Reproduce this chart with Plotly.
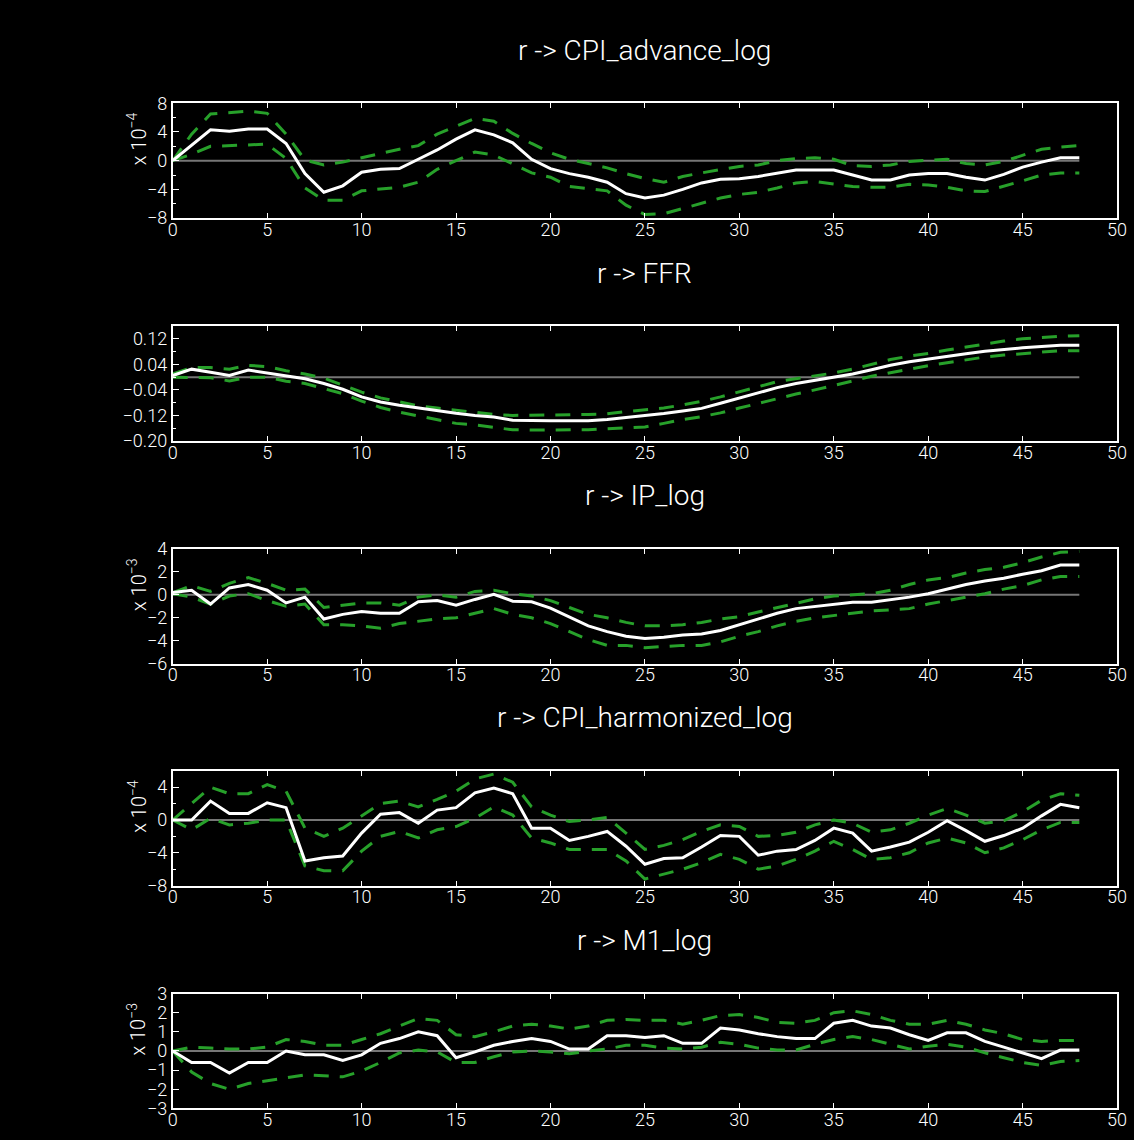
import plotly.graph_objects as go

# ---------------- data ----------------
lags = list(range(49))

titles = ["r -> CPI_advance_log", "r -> FFR", "r -> IP_log",
          "r -> CPI_harmonized_log", "r -> M1_log"]
scale_labels = ["x 10<sup>−4</sup>", "", "x 10<sup>−3</sup>", "x 10<sup>−4</sup>", "x 10<sup>−3</sup>"]

# panel 1 : r -> CPI_advance_log   (units of 1e-4)
cpi_adv_irf = [0, 2.1, 4.3, 4.1, 4.4, 4.4, 2.4, -1.8, -4.4, -3.5, -1.6, -1.2, -1.1, 0.2, 1.5, 3.0, 4.3,
               3.6, 2.5, 0.2, -1.1, -1.8, -2.3, -3.0, -4.6, -5.2, -4.8, -4.0, -3.1, -2.6, -2.5, -2.2,
               -1.7, -1.3, -1.3, -1.3, -2.0, -2.7, -2.7, -2.0, -1.8, -1.8, -2.3, -2.7, -1.9, -0.9,
               -0.2, 0.4, 0.4]
cpi_adv_up = [0, 3.7, 6.5, 6.7, 6.9, 6.6, 3.7, 0.1, -0.6, -0.2, 0.4, 1.1, 1.6, 2.1, 3.7, 4.8, 5.9,
              5.5, 3.8, 2.4, 1.1, 0.2, -0.4, -1.0, -1.8, -2.5, -3.0, -2.2, -1.7, -1.3, -0.8, -0.6,
              0.0, 0.3, 0.4, 0.2, -0.7, -0.8, -0.6, -0.1, 0.0, 0.2, -0.4, -0.6, -0.1, 0.7, 1.6, 1.9, 2.1]
cpi_adv_lo = [0, 0.9, 2.0, 2.1, 2.3, 2.3, 0.3, -3.8, -5.5, -5.5, -4.2, -3.9, -3.7, -3.0, -1.2, 0.0,
              1.2, 0.8, -0.4, -1.7, -2.3, -3.6, -3.9, -4.2, -6.2, -7.5, -7.4, -6.7, -6.0, -5.2, -4.7,
              -4.4, -3.8, -3.1, -2.9, -3.3, -3.6, -3.7, -3.7, -3.3, -3.4, -3.7, -4.2, -4.3, -3.6,
              -2.8, -2.0, -1.7, -1.7]

# panel 2 : r -> FFR
ffr_irf = [0.005, 0.025, 0.015, 0.005, 0.022, 0.013, 0.002, -0.005, -0.02, -0.038, -0.062, -0.078,
           -0.088, -0.097, -0.106, -0.113, -0.12, -0.125, -0.135, -0.137, -0.137, -0.137, -0.137,
           -0.133, -0.127, -0.12, -0.114, -0.106, -0.098, -0.082, -0.065, -0.048, -0.033, -0.02,
           -0.01, 0.0, 0.01, 0.023, 0.037, 0.048, 0.057, 0.065, 0.073, 0.081, 0.087, 0.092, 0.096,
           0.1, 0.1]
ffr_up = [0.01, 0.03, 0.03, 0.025, 0.037, 0.033, 0.02, 0.01, -0.003, -0.025, -0.047, -0.065, -0.078,
          -0.09, -0.097, -0.103, -0.11, -0.117, -0.12, -0.12, -0.12, -0.118, -0.117, -0.115, -0.108,
          -0.102, -0.097, -0.087, -0.076, -0.062, -0.045, -0.03, -0.014, -0.005, 0.003, 0.013,
          0.025, 0.04, 0.055, 0.066, 0.074, 0.085, 0.095, 0.105, 0.113, 0.12, 0.125, 0.128, 0.13]
ffr_lo = [0.0, 0.0, -0.002, -0.012, 0.0, 0.0, -0.013, -0.02, -0.035, -0.052, -0.075, -0.095, -0.11,
          -0.122, -0.135, -0.145, -0.15, -0.158, -0.165, -0.166, -0.166, -0.166, -0.165, -0.162,
          -0.16, -0.156, -0.145, -0.133, -0.124, -0.112, -0.097, -0.082, -0.068, -0.053, -0.04,
          -0.027, -0.012, 0.003, 0.014, 0.027, 0.036, 0.045, 0.055, 0.063, 0.069, 0.073, 0.079,
          0.083, 0.083]

# panel 3 : r -> IP_log   (units of 1e-3)
ip_irf = [0.2, 0.4, -0.8, 0.6, 0.9, 0.4, -0.7, -0.2, -2.1, -1.7, -1.45, -1.6, -1.6, -0.6, -0.5,
          -0.9, -0.4, 0.05, -0.55, -0.6, -1.15, -1.9, -2.7, -3.2, -3.6, -3.8, -3.7, -3.5, -3.4,
          -3.1, -2.6, -2.1, -1.6, -1.2, -1.0, -0.8, -0.65, -0.65, -0.45, -0.2, 0.1, 0.5, 0.9, 1.2,
          1.45, 1.8, 2.1, 2.6, 2.6]
ip_up = [0.2, 0.8, 0.3, 1.0, 1.5, 1.0, 0.4, 0.5, -1.1, -0.9, -0.7, -0.7, -0.9, -0.2, 0.0, -0.2,
         0.3, 0.4, 0.1, -0.1, -0.5, -1.1, -1.7, -2.0, -2.4, -2.7, -2.7, -2.6, -2.4, -2.1, -1.9,
         -1.5, -1.1, -0.7, -0.35, -0.1, 0.0, 0.1, 0.4, 0.9, 1.3, 1.5, 1.9, 2.2, 2.4, 2.8, 3.3,
         3.7, 3.8]
ip_lo = [0.1, -0.2, -0.8, -0.1, 0.1, -0.5, -1.0, -0.8, -2.6, -2.6, -2.7, -2.9, -2.5, -2.3, -2.1,
         -2.0, -1.6, -1.2, -1.7, -2.0, -2.5, -3.2, -3.9, -4.4, -4.4, -4.6, -4.5, -4.4, -4.4, -4.1,
         -3.6, -3.2, -2.7, -2.3, -2.0, -1.8, -1.6, -1.4, -1.3, -1.2, -0.8, -0.5, -0.2, 0.1, 0.5,
         0.8, 1.3, 1.6, 1.6]

# panel 4 : r -> CPI_harmonized_log   (units of 1e-4)
cpi_h_irf = [0, 0, 2.3, 0.8, 0.8, 2.1, 1.5, -5.0, -4.6, -4.4, -1.6, 0.7, 0.9, -0.4, 1.2, 1.5, 3.3,
             3.9, 3.2, -1.0, -1.0, -2.5, -2.0, -1.4, -3.2, -5.4, -4.7, -4.6, -3.3, -1.9, -2.0, -4.3,
             -3.8, -3.6, -2.5, -1.0, -1.6, -3.8, -3.3, -2.7, -1.5, -0.1, -1.3, -2.6, -1.9, -1.0,
             0.5, 1.9, 1.5]
cpi_h_up = [0, 2.0, 4.0, 3.2, 3.2, 4.3, 3.5, -1.0, -2.0, -1.0, 0.5, 2.0, 2.3, 1.6, 2.5, 3.5, 5.0,
            5.6, 4.6, 1.6, 0.6, -0.2, 0.0, 0.3, -1.6, -3.6, -3.1, -2.4, -1.4, -0.6, -0.8, -2.0,
            -1.9, -1.5, -0.6, 0.0, -0.4, -1.5, -1.2, -0.4, 0.6, 1.4, 0.6, -0.4, -0.1, 1.0, 2.4,
            3.2, 3.0]
cpi_h_lo = [0, -1.2, 0.2, -0.6, -0.4, 0.0, 0.0, -5.6, -6.2, -6.2, -3.8, -2.0, -1.4, -2.2, -1.2,
            -0.8, 0.2, 1.6, 0.6, -2.2, -2.8, -3.6, -3.6, -3.6, -5.0, -7.2, -6.6, -6.0, -5.2, -4.2,
            -4.8, -6.0, -5.6, -4.8, -3.8, -2.6, -3.6, -4.8, -4.6, -4.0, -2.8, -2.2, -2.8, -4.0,
            -3.4, -2.4, -1.2, -0.3, -0.3]

# panel 5 : r -> M1_log   (units of 1e-3)
m1_irf = [0, -0.6, -0.6, -1.15, -0.6, -0.6, 0.0, -0.2, -0.2, -0.5, -0.2, 0.4, 0.65, 1.0, 0.8,
          -0.35, -0.05, 0.3, 0.5, 0.65, 0.5, 0.1, 0.1, 0.8, 0.8, 0.7, 0.8, 0.4, 0.4, 1.2, 1.1, 0.9,
          0.75, 0.65, 0.65, 1.45, 1.6, 1.3, 1.2, 0.85, 0.55, 0.95, 0.95, 0.5, 0.2, -0.1, -0.4,
          0.05, 0.05]
m1_up = [0, 0.2, 0.15, 0.1, 0.1, 0.2, 0.6, 0.5, 0.3, 0.3, 0.6, 0.9, 1.3, 1.7, 1.6, 0.85, 0.75,
         1.0, 1.3, 1.4, 1.3, 1.15, 1.3, 1.6, 1.65, 1.6, 1.6, 1.4, 1.6, 1.85, 1.9, 1.75, 1.5, 1.45,
         1.6, 2.0, 2.1, 1.9, 1.6, 1.4, 1.4, 1.6, 1.4, 1.1, 0.9, 0.6, 0.5, 0.55, 0.55]
m1_lo = [0, -1.1, -1.7, -2.0, -1.7, -1.55, -1.4, -1.25, -1.3, -1.35, -1.05, -0.6, -0.1, 0.05,
         -0.05, -0.6, -0.6, -0.3, -0.05, 0.0, -0.05, -0.15, 0.0, 0.1, 0.3, 0.3, 0.15, 0.1, 0.2,
         0.45, 0.35, 0.15, 0.05, 0.05, 0.35, 0.6, 0.75, 0.6, 0.35, 0.1, 0.25, 0.35, 0.2, -0.1,
         -0.35, -0.6, -0.75, -0.55, -0.5]

irfs = [cpi_adv_irf, ffr_irf, ip_irf, cpi_h_irf, m1_irf]
uppers = [cpi_adv_up, ffr_up, ip_up, cpi_h_up, m1_up]
lowers = [cpi_adv_lo, ffr_lo, ip_lo, cpi_h_lo, m1_lo]

y_ranges = [[-8, 8], [-0.2, 0.16], [-6, 4], [-8, 6], [-3, 3]]
y_tickvals = [[-8, -4, 0, 4, 8],
              [-0.2, -0.12, -0.04, 0.04, 0.12],
              [-6, -4, -2, 0, 2, 4],
              [-8, -4, 0, 4],
              [-3, -2, -1, 0, 1, 2, 3]]
y_ticktext = [["−8", "−4", "0", "4", "8"],
              ["−0.20", "−0.12", "−0.04", "0.04", "0.12"],
              ["−6", "−4", "−2", "0", "2", "4"],
              ["−8", "−4", "0", "4"],
              ["−3", "−2", "−1", "0", "1", "2", "3"]]
x_tickvals = list(range(0, 51, 5))

# ---------------- layout / style ----------------
W, H = 1134, 1140
BOX_LEFT, BOX_RIGHT = 170, 1127
PANEL_TOPS = [94, 321, 548, 774, 1001]
PANEL_H = 117
minor_dtick = [2, 0.04, None, 2, None]
minor_tick0 = [0, -0.2, None, 0, None]

FONT = "Roboto, DejaVu Sans, sans-serif"
TITLE_FONT = dict(family=FONT, size=28, color="white", weight=300)
TICK_FONT = dict(family=FONT, size=18, color="white", weight=300)
GREEN = "#27a02a"

fig = go.Figure()
layout = dict(
    width=W, height=H,
    margin=dict(l=0, r=0, t=0, b=0),
    paper_bgcolor="black", plot_bgcolor="black",
    showlegend=False,
    font=dict(family=FONT, color="white", size=18),
    annotations=[],
)

for i in range(5):
    n = "" if i == 0 else str(i + 1)
    xa, ya = "x" + n, "y" + n
    # zero reference line
    fig.add_trace(go.Scatter(x=[lags[0], lags[-1]], y=[0, 0], mode="lines",
                             line=dict(color="#767676", width=2),
                             xaxis=xa, yaxis=ya, hoverinfo="skip"))
    fig.add_trace(go.Scatter(x=lags, y=uppers[i], mode="lines",
                             line=dict(color=GREEN, width=3, dash="15px,11px"),
                             xaxis=xa, yaxis=ya))
    fig.add_trace(go.Scatter(x=lags, y=lowers[i], mode="lines",
                             line=dict(color=GREEN, width=3, dash="15px,11px"),
                             xaxis=xa, yaxis=ya))
    fig.add_trace(go.Scatter(x=lags, y=irfs[i], mode="lines",
                             line=dict(color="white", width=3),
                             xaxis=xa, yaxis=ya))

    top = PANEL_TOPS[i]
    bot = top + PANEL_H
    ydom = [1 - bot / H, 1 - top / H]
    xdom = [BOX_LEFT / W, BOX_RIGHT / W]

    layout["xaxis" + n] = dict(
        domain=xdom, range=[0, 50], anchor=ya,
        tickvals=x_tickvals, ticks="inside", ticklen=5, tickcolor="white", tickwidth=1,
        showline=True, linecolor="white", linewidth=2, mirror="ticks",
        showgrid=False, zeroline=False, ticklabeloverflow="allow",
        ticklabelstandoff=-6,
        tickfont=TICK_FONT,
    )
    yax = dict(
        domain=ydom, range=y_ranges[i], anchor=xa,
        tickvals=y_tickvals[i], ticktext=y_ticktext[i],
        ticks="inside", ticklen=6, tickcolor="white", tickwidth=1,
        showline=True, linecolor="white", linewidth=2, mirror=True,
        showgrid=False, zeroline=False, ticklabeloverflow="allow",
        tickfont=TICK_FONT,
    )
    if minor_dtick[i] is not None:
        yax["minor"] = dict(dtick=minor_dtick[i], tick0=minor_tick0[i], ticks="inside",
                            ticklen=3, tickcolor="white", showgrid=False)
    layout["yaxis" + n] = yax

    layout["annotations"].append(dict(
        text=titles[i], xref="paper", yref="paper",
        x=(BOX_LEFT + BOX_RIGHT) / 2 / W, y=1 - (top - 54) / H,
        xanchor="center", yanchor="middle", showarrow=False,
        font=TITLE_FONT))
    if scale_labels[i]:
        layout["annotations"].append(dict(
            text=scale_labels[i], xref="paper", yref="paper",
            x=134 / W, y=1 - (top + PANEL_H / 2 - 22) / H,
            xanchor="center", yanchor="middle", showarrow=False, textangle=-90,
            font=dict(family=FONT, size=20, color="white", weight=300)))

fig.update_layout(**layout)
fig.write_html("out.html")
